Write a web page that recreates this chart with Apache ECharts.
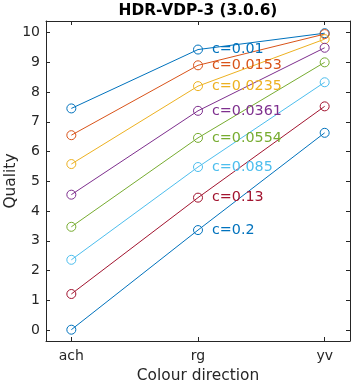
<!DOCTYPE html>
<html>
<head>
<meta charset="utf-8">
<script src="https://cdn.jsdelivr.net/npm/echarts@6/dist/echarts.min.js"></script>
<style>
  html, body { margin: 0; padding: 0; background: #fff; }
  #chart { width: 353px; height: 384px; }
</style>
</head>
<body>
<div id="chart"></div>
<script>
const categories = ['ach', 'rg', 'yv']
const seriesNames = ['c=0.01', 'c=0.0153', 'c=0.0235', 'c=0.0361', 'c=0.0554', 'c=0.085', 'c=0.13', 'c=0.2']
const quality = [
  [7.45, 9.43, 9.98],
  [6.55, 8.90, 9.95],
  [5.58, 8.20, 9.78],
  [4.55, 7.37, 9.49],
  [3.47, 6.46, 9.00],
  [2.36, 5.48, 8.33],
  [1.21, 4.45, 7.52],
  [0.01, 3.36, 6.63]
]
const yTicks = [0, 1, 2, 3, 4, 5, 6, 7, 8, 9, 10]
const colors = ['#0072BD', '#D95319', '#EDB120', '#7E2F8E', '#77AC30', '#4DBEEE', '#A2142F', '#0072BD']

const font = 'DejaVu Sans'
const textColor = '#262626'

const chart = echarts.init(document.getElementById('chart'))

const series = quality.map((vals, i) => ({
  name: seriesNames[i],
  type: 'line',
  xAxisIndex: 0,
  yAxisIndex: 0,
  data: vals.map((v, j) => {
    const point = [j + 1, v]
    if (j === 1) {
      return {
        value: point,
        label: {
          show: true,
          position: 'right',
          distance: 9,
          formatter: seriesNames[i],
          color: colors[i],
          fontFamily: font,
          fontSize: 14.3
        }
      }
    }
    return point
  }),
  symbol: 'circle',
  symbolSize: 9,
  animation: false,
  lineStyle: { color: colors[i], width: 1 },
  itemStyle: { color: 'rgba(0,0,0,0)', borderColor: colors[i], borderWidth: 1 },
  emphasis: { disabled: true }
}))

const tickFmt = v => {
  const idx = Math.round(v) - 1
  return Math.abs(v - Math.round(v)) < 1e-6 && categories[idx] ? categories[idx] : ''
}

chart.setOption({
  backgroundColor: '#fff',
  textStyle: { fontFamily: font },
  title: {
    text: 'HDR-VDP-3 (3.0.6)',
    left: 198,
    textAlign: 'center',
    top: 3,
    padding: 0,
    textStyle: { fontFamily: font, fontSize: 15.4, fontWeight: 'bold', color: '#000' }
  },
  grid: { left: 46, right: 3, top: 21, bottom: 43, outerBoundsMode: 'none', containLabel: false },
  xAxis: [
    {
      type: 'value',
      min: 0.8,
      max: 3.2,
      name: 'Colour direction',
      nameLocation: 'middle',
      nameGap: 27,
      nameMoveOverlap: false,
      nameTextStyle: { color: textColor, fontSize: 15.4, fontFamily: font },
      axisLine: { show: true, onZero: false, lineStyle: { color: textColor, width: 1 } },
      axisTick: { show: true, inside: true, length: 4, customValues: [1, 2, 3], lineStyle: { color: textColor } },
      axisLabel: { color: textColor, fontSize: 14, fontFamily: font, margin: 8, customValues: [1, 2, 3], formatter: tickFmt },
      splitLine: { show: false }
    },
    {
      type: 'value',
      position: 'top',
      min: 0.8,
      max: 3.2,
      axisLine: { show: true, onZero: false, lineStyle: { color: textColor, width: 1 } },
      axisTick: { show: true, inside: true, length: 4, customValues: [1, 2, 3], lineStyle: { color: textColor } },
      axisLabel: { show: false },
      splitLine: { show: false }
    }
  ],
  yAxis: [
    {
      type: 'value',
      min: -0.37,
      max: 10.39,
      name: 'Quality',
      nameLocation: 'middle',
      nameGap: 28,
      nameMoveOverlap: false,
      nameTextStyle: { color: textColor, fontSize: 15.4, fontFamily: font },
      axisLine: { show: true, onZero: false, lineStyle: { color: textColor, width: 1 } },
      axisTick: { show: true, inside: true, length: 4, customValues: yTicks, lineStyle: { color: textColor } },
      axisLabel: { color: textColor, fontSize: 14, fontFamily: font, margin: 6, customValues: yTicks },
      splitLine: { show: false }
    },
    {
      type: 'value',
      position: 'right',
      min: -0.37,
      max: 10.39,
      axisLine: { show: true, onZero: false, lineStyle: { color: textColor, width: 1 } },
      axisTick: { show: true, inside: true, length: 4, customValues: yTicks, lineStyle: { color: textColor } },
      axisLabel: { show: false },
      splitLine: { show: false }
    }
  ],
  series: series
})
</script>
</body>
</html>
